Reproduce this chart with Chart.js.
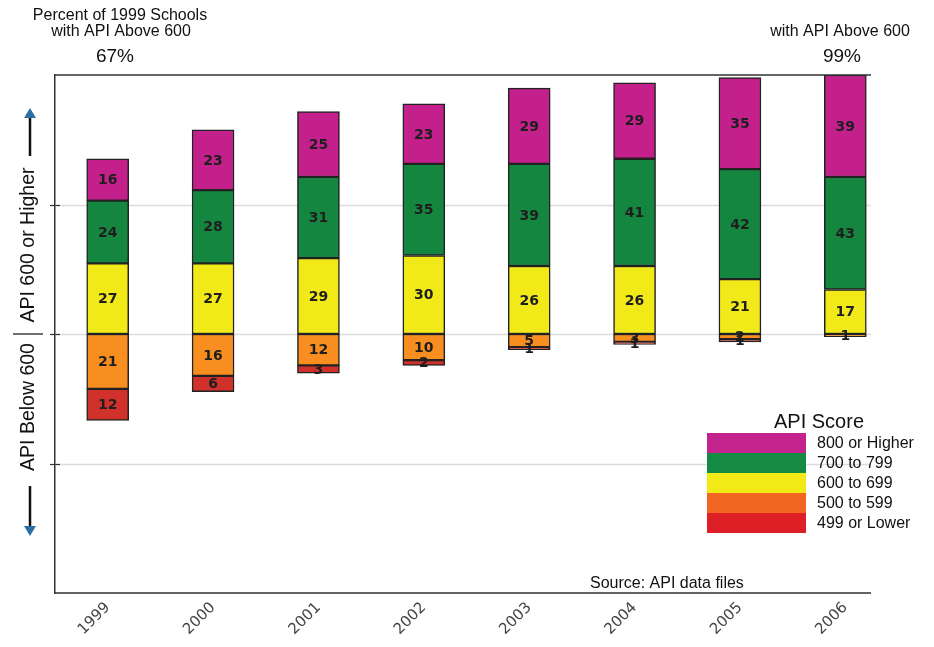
<!DOCTYPE html>
<html>
<head>
<meta charset="utf-8">
<script src="https://cdn.jsdelivr.net/npm/chart.js@4.4.1/dist/chart.umd.min.js"></script>
<style>
  html, body { margin: 0; padding: 0; background: #fff; }
  #c { display: block; }
</style>
</head>
<body>
<canvas id="c" width="934" height="647"></canvas>
<script>
// School years on the x axis
const years = ['1999', '2000', '2001', '2002', '2003', '2004', '2005', '2006'];

// Percent of schools in each API score band
const score800Plus = [16, 23, 25, 23, 29, 29, 35, 39];
const score700to799 = [24, 28, 31, 35, 39, 41, 42, 43];
const score600to699 = [27, 27, 29, 30, 26, 26, 21, 17];
const score500to599 = [21, 16, 12, 10, 5, 3, 2, 1];
const score499Lower = [12, 6, 3, 2, 1, 1, 1, 0];

// Band names, top band first
const bandNames = ['800 or Higher', '700 to 799', '600 to 699', '500 to 599', '499 or Lower'];

const SANS = '"Liberation Sans", Arial, Helvetica, sans-serif';
const barColors = ['#C4208C', '#15863F', '#F2E918', '#F78E1F', '#D0312B'];
const keyColors = ['#C4228D', '#148A43', '#F2EA17', '#F26522', '#DF1F26'];

// Bands below 600 are plotted downward from zero
const neg = arr => arr.map(v => -v);
const above600 = i => score800Plus[i] + score700to799[i] + score600to699[i];

const dataset = (idx, values) => ({
  label: bandNames[idx],
  data: values,
  backgroundColor: barColors[idx],
  borderColor: '#222',
  borderWidth: 1.5,
  borderSkipped: false,
  barThickness: 42,
  stack: 'api'
});

const PLOT_RIGHT_LINE = 871;

const decorations = {
  id: 'decorations',
  beforeDatasetsDraw(chart) {
    const { ctx, chartArea: a, scales: { y } } = chart;
    ctx.save();
    // horizontal reference lines
    ctx.strokeStyle = '#dcdcdc';
    ctx.lineWidth = 1.5;
    [-49.5, 0, 49.5].forEach(v => {
      const py = Math.round(y.getPixelForValue(v)) + 0.5;
      ctx.beginPath();
      ctx.moveTo(a.left, py);
      ctx.lineTo(PLOT_RIGHT_LINE, py);
      ctx.stroke();
    });
    ctx.restore();
  },
  afterDatasetsDraw(chart) {
    const { ctx } = chart;
    ctx.save();
    ctx.font = 'bold 14px "DejaVu Sans", sans-serif';
    ctx.fillStyle = '#1e1e1e';
    ctx.textAlign = 'center';
    ctx.textBaseline = 'middle';
    chart.data.datasets.forEach((ds, di) => {
      const meta = chart.getDatasetMeta(di);
      meta.data.forEach((el, i) => {
        const v = Math.abs(ds.data[i]);
        if (!v) return;
        const p = el.getCenterPoint();
        ctx.fillText(String(v), p.x, p.y + 1);
      });
    });
    ctx.restore();
  },
  afterDraw(chart) {
    const { ctx, chartArea: a, scales: { y } } = chart;
    ctx.save();

    // frame: top line and bottom axis line
    ctx.strokeStyle = '#333';
    ctx.lineWidth = 1.5;
    ctx.beginPath();
    ctx.moveTo(a.left, a.top);
    ctx.lineTo(PLOT_RIGHT_LINE, a.top);
    ctx.moveTo(a.left, a.bottom);
    ctx.lineTo(PLOT_RIGHT_LINE, a.bottom);
    ctx.stroke();

    // tick marks crossing the left axis
    ctx.lineWidth = 1.2;
    [-49.5, 0, 49.5].forEach(v => {
      const py = Math.round(y.getPixelForValue(v)) + 0.5;
      ctx.beginPath();
      ctx.moveTo(a.left - 5, py);
      ctx.lineTo(a.left + 5, py);
      ctx.stroke();
    });

    // header texts
    ctx.fillStyle = '#111';
    ctx.textAlign = 'center';
    ctx.textBaseline = 'middle';
    ctx.font = '16px ' + SANS;
    ctx.fillText('Percent of 1999 Schools', 120, 16);
    ctx.fillText('with API Above 600', 121, 32);
    ctx.fillText('with API Above 600', 840, 32);
    ctx.font = '19px ' + SANS;
    ctx.fillText(above600(0) + '%', 115, 57);
    ctx.fillText(above600(years.length - 1) + '%', 842, 57);

    // side labels with direction arrows
    const zeroY = y.getPixelForValue(0);
    ctx.font = '19.5px ' + SANS;
    ctx.save();
    ctx.translate(29, 245);
    ctx.rotate(-Math.PI / 2);
    ctx.fillText('API 600 or Higher', 0, 0);
    ctx.restore();
    ctx.save();
    ctx.translate(29, 407);
    ctx.rotate(-Math.PI / 2);
    ctx.fillText('API Below 600', 0, 0);
    ctx.restore();

    ctx.strokeStyle = '#111';
    ctx.lineWidth = 1.2;
    ctx.beginPath();
    ctx.moveTo(13, zeroY);
    ctx.lineTo(43, zeroY);
    ctx.stroke();

    ctx.lineWidth = 2.5;
    ctx.beginPath();
    ctx.moveTo(30, 156);
    ctx.lineTo(30, 117);
    ctx.moveTo(30, 486);
    ctx.lineTo(30, 527);
    ctx.stroke();
    ctx.fillStyle = '#2A6FA5';
    ctx.beginPath();
    ctx.moveTo(30, 108);
    ctx.lineTo(36, 118);
    ctx.lineTo(24, 118);
    ctx.closePath();
    ctx.fill();
    ctx.beginPath();
    ctx.moveTo(30, 536);
    ctx.lineTo(36, 526);
    ctx.lineTo(24, 526);
    ctx.closePath();
    ctx.fill();

    // key
    ctx.fillStyle = '#111';
    ctx.font = '20px ' + SANS;
    ctx.fillText('API Score', 819, 422);
    ctx.textAlign = 'left';
    ctx.font = '16px ' + SANS;
    const rowH = 20;
    bandNames.forEach((name, i) => {
      const top = 433 + i * rowH;
      ctx.fillStyle = keyColors[i];
      ctx.fillRect(707, top, 99, rowH);
      ctx.fillStyle = '#111';
      ctx.fillText(name, 817, top + rowH / 2 + 0.5);
    });

    // source note
    ctx.font = '16px ' + SANS;
    ctx.fillText('Source: API data files', 590, 584);
    ctx.restore();
  }
};

new Chart(document.getElementById('c'), {
  type: 'bar',
  data: {
    labels: years,
    datasets: [
      dataset(2, score600to699),
      dataset(1, score700to799),
      dataset(0, score800Plus),
      dataset(3, neg(score500to599)),
      dataset(4, neg(score499Lower))
    ]
  },
  options: {
    responsive: false,
    animation: false,
    devicePixelRatio: 1,
    layout: { padding: { top: 75, right: 36, left: 0, bottom: 0 } },
    plugins: {
      legend: { display: false },
      tooltip: { enabled: false },
      title: { display: false }
    },
    scales: {
      x: {
        stacked: true,
        offset: true,
        grid: { display: false, drawTicks: false },
        border: { display: false },
        ticks: {
          minRotation: 45,
          maxRotation: 45,
          padding: 6,
          color: '#444',
          font: { family: '"DejaVu Sans", sans-serif', size: 15 }
        },
        afterFit: s => { s.height = 54; }
      },
      y: {
        stacked: true,
        min: -99,
        max: 99,
        grid: { display: false, drawTicks: false },
        border: { display: true, color: '#333', width: 1.5 },
        ticks: { display: false },
        afterBuildTicks: s => { s.ticks = [{ value: -49.5 }, { value: 0 }, { value: 49.5 }]; },
        afterFit: s => { s.width = 55; }
      }
    }
  },
  plugins: [decorations]
});
</script>
</body>
</html>
